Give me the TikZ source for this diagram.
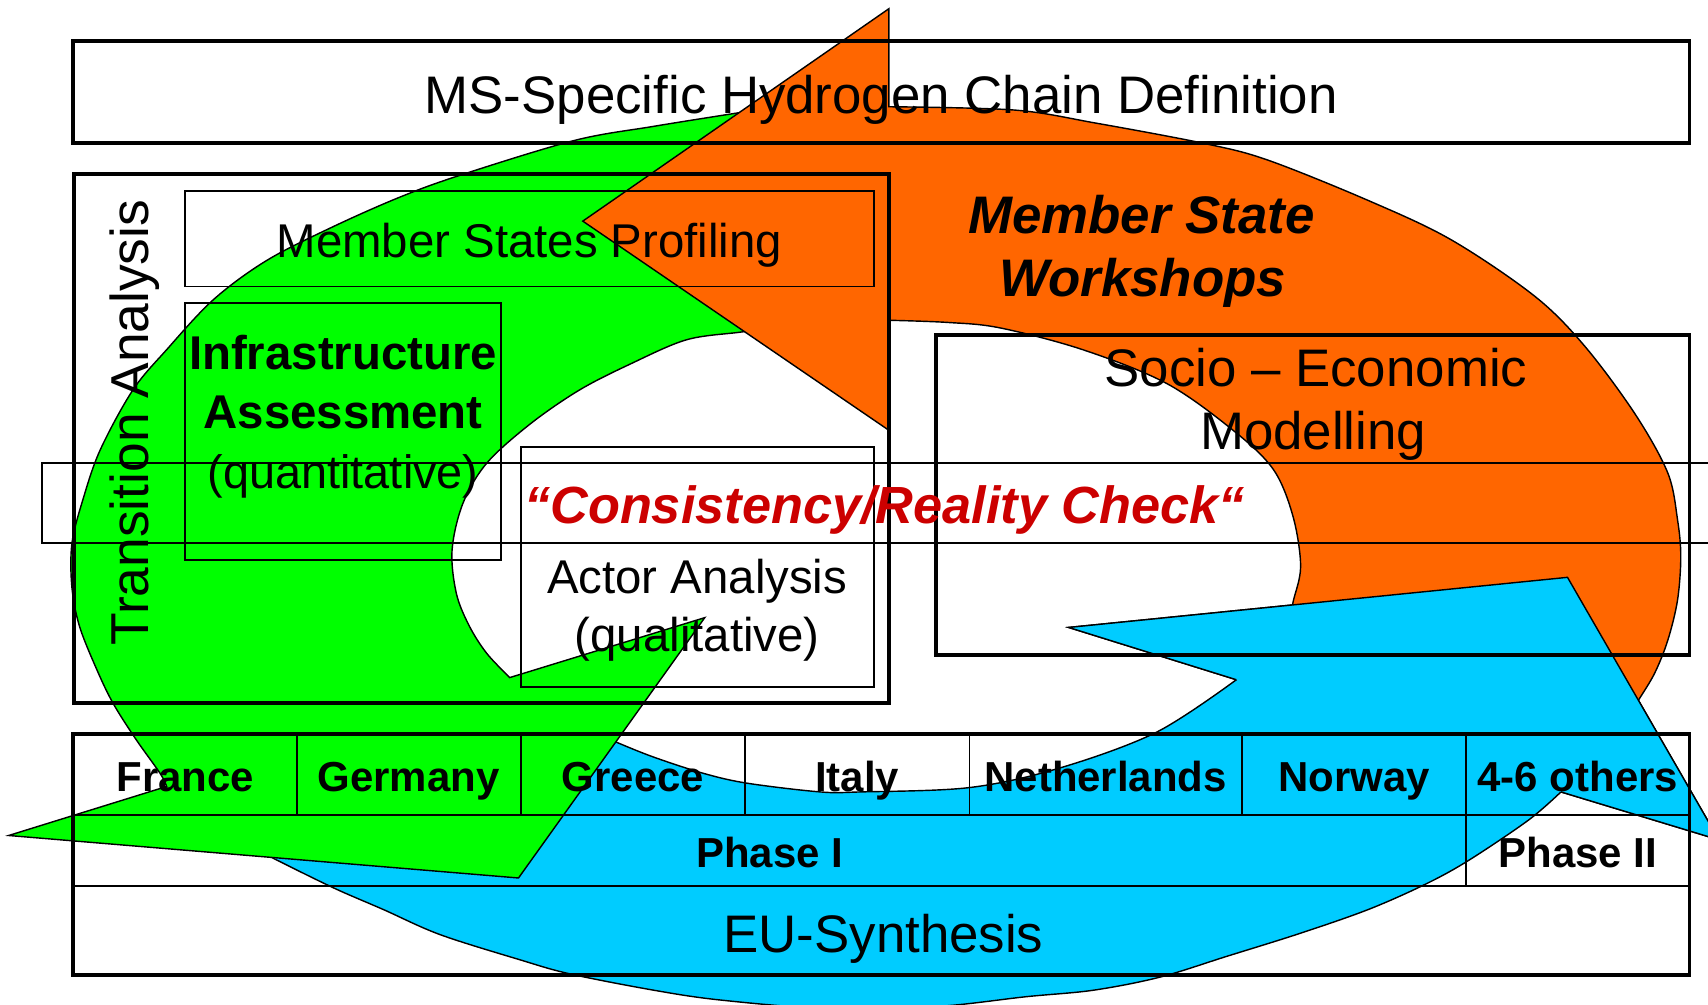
\documentclass[tikz,border=0pt]{standalone}
\usepackage{fontspec}
\setmainfont{Liberation Sans}
\definecolor{agreen}{HTML}{00FF00}
\definecolor{aorange}{HTML}{FF6600}
\definecolor{ablue}{HTML}{00CCFF}
\definecolor{cred}{HTML}{CC0000}
\newcommand{\setfs}[1]{\fontsize{#1}{#1}\selectfont}
\begin{document}
\begin{tikzpicture}[x=1pt,y=-1pt,
  arrowline/.style={draw=black, line width=1.3pt, line join=miter},
  thickbox/.style={draw=black, line width=3.6pt},
  thinbox/.style={draw=black, line width=1.8pt},
  bandbox/.style={draw=black, line width=1.4pt},
  rowline/.style={draw=black, line width=2pt},
  colline/.style={draw=black, line width=1.5pt},
  lbl/.style={inner sep=0pt, anchor=base, text=black},
  cell/.style={lbl, font=\bfseries\setfs{38.5}}]
\useasboundingbox (0,0) rectangle (1568,922);
\clip (0,0) rectangle (1568,922);

% ---------- blue arrow ----------
\path[arrowline, fill=ablue] (230,775) -- plot[smooth, tension=0.55] coordinates {(251,788) (306,815) (352,835) (404,858) (477,881) (523,894) (600,909) (661,918) (760,926) (860,924) (942,915) (1004,909) (1065,897) (1126,878) (1193,857) (1256,835) (1308,812) (1348,790) (1403,753) (1433,727)}
  -- (1578,771) -- (1439,530) -- (981,576) -- (1135,624)
  -- plot[smooth, tension=0.55] coordinates {(1135,624) (1062,672) (973,705) (890,723) (790,727) (753,727) (686,719) (646,710) (600,695) (565,681) (540,670)} -- cycle;

% ---------- green arrow ----------
\path[arrowline, fill=agreen] (750,200) -- (720,97) -- plot[smooth, tension=0.55] coordinates {(720,97) (675,104) (600,116) (527,129) (422,161) (367,181) (306,208) (245,239) (196,275) (153,321) (122,358) (92,413) (76,459) (66,499) (66,539) (73,575) (89,615) (104,646) (125,679) (147,710) (153,722)}
  -- (8,767) -- (476,806) -- (647,567) -- (468,622)
  -- plot[smooth, tension=0.55] coordinates {(468,622) (447,600) (431,575) (419,545) (415,505) (425,462) (447,425) (487,389) (532,358) (579,334) (630,312) (679,305) (720,300)} -- cycle;

% ---------- orange arrow ----------
\path[arrowline, fill=aorange] (816,98) -- (816,8) -- (535,203) -- (816,395) -- (816,294)
  -- plot[smooth, tension=0.55] coordinates {(816,294) (870,296) (918,301) (994,321) (1071,352) (1132,395) (1169,431) (1187,474) (1194,520) (1187,553) (1183,575)}
  -- (1300,600) -- (1490,665)
  -- plot[smooth, tension=0.55] coordinates {(1490,665) (1504,643) (1519,618) (1531,588) (1540,551) (1543,511) (1540,477) (1531,434) (1501,380) (1455,318) (1409,272) (1332,220) (1256,184) (1164,147) (1107,132) (1006,113) (931,101) (816,98)} -- cycle;

% ---------- blue arrow head over orange ----------
\fill[ablue] (981,576) -- (1439,530) -- (1578,771) -- (1433,727) -- (1135,624) -- cycle;
\draw[arrowline] (1135,624) -- (981,576) -- (1439,530) -- (1578,771) -- (1433,727);

% ---------- boxes ----------
\draw[thickbox] (67,38) rectangle (1551,131);
\draw[thickbox] (68,160) rectangle (816,645);
\draw[thinbox] (170,175) rectangle (802,263);
\draw[thinbox] (170,278) rectangle (460,514);
\draw[thinbox] (478,410) rectangle (802,631);
\draw[bandbox] (38.5,425) rectangle (1590,498.5);
\draw[thickbox] (859,307.5) rectangle (1551,601);

% table
\draw[thickbox] (67,674) rectangle (1551,895);
\draw[rowline] (67,748) -- (1551,748);
\draw[rowline] (67,813.5) -- (1551,813.5);
\foreach \cx in {272.5,478,684,890,1140,1346}
  \draw[colline] (\cx,674) -- (\cx,748);
\draw[colline] (1346,748) -- (1346,813.5);

% ---------- texts ----------
\node[lbl, font=\setfs{48.5}] (title) at (809,104) {MS-Specific Hydrogen Chain Definition};
\node[lbl, font=\setfs{43.5}] (msp) at (486,236) {Member States Profiling};
\node[lbl, font=\setfs{49}, rotate=90] (ta) at (136,388) {Transition Analysis};
\node[lbl, font=\bfseries\setfs{43.5}] (infra1) at (315,339) {Infrastructure};
\node[lbl, font=\bfseries\setfs{43.5}] (infra2) at (315,393) {Assessment};
\node[lbl, font=\setfs{43}] (infra3) at (315,448.5) {(quantitative)};
\node[lbl, font=\setfs{43.5}] (actor1) at (640,545) {Actor Analysis};
\node[lbl, font=\setfs{43.5}] (actor2) at (640,598.5) {(qualitative)};
\node[lbl, font=\bfseries\itshape\setfs{48}, text=cred] (cons) at (812,481) {“Consistency/Reality Check“};
\node[lbl, font=\bfseries\itshape\setfs{48.5}] (ws1) at (1048,214) {Member State};
\node[lbl, font=\bfseries\itshape\setfs{48.5}] (ws2) at (1049,272.5) {Workshops};
\node[lbl, font=\setfs{48.5}] (se1) at (1208,355) {Socio – Economic};
\node[lbl, font=\setfs{48.5}] (se2) at (1205.5,413) {Modelling};

\node[cell] (fr) at (170,727) {France};
\node[cell] (de) at (375,727) {Germany};
\node[cell] (gr) at (581,727) {Greece};
\node[cell] (it) at (787,727) {Italy};
\node[cell] (nl) at (1015,727) {Netherlands};
\node[cell] (no) at (1243,727) {Norway};
\node[cell] (ot) at (1448.5,727) {4-6 others};
\node[cell] (ph1) at (706.5,796) {Phase I};
\node[cell] (ph2) at (1448.5,796) {Phase II};
\node[lbl, font=\setfs{48.5}] (eu) at (811,874) {EU-Synthesis};
\end{tikzpicture}
\end{document}
